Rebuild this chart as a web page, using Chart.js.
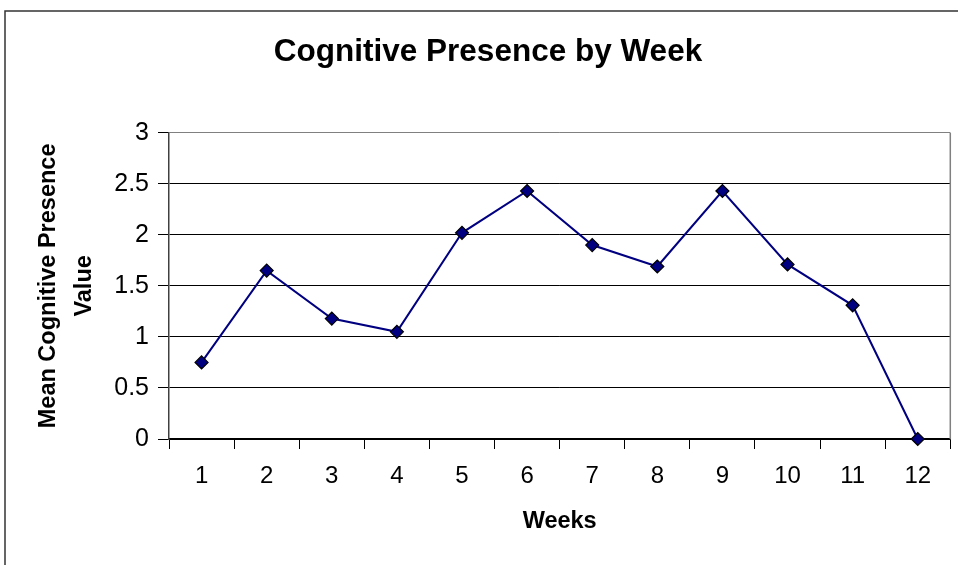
<!DOCTYPE html>
<html>
<head>
<meta charset="utf-8">
<title>Cognitive Presence by Week</title>
<script src="https://cdn.jsdelivr.net/npm/chart.js@4"></script>
<style>
  html, body { margin: 0; padding: 0; background: #fff; }
  #wrap { width: 958px; height: 565px; position: relative; }
</style>
</head>
<body>
<div id="wrap"><canvas id="myChart"></canvas></div>
<script>
'use strict';

/* Data */
const weeks = ['1', '2', '3', '4', '5', '6', '7', '8', '9', '10', '11', '12'];
const meanCognitive = [0.75, 1.65, 1.18, 1.05, 2.02, 2.43, 1.90, 1.69, 2.43, 1.71, 1.31, 0];
const yTicks = [0, 0.5, 1, 1.5, 2, 2.5, 3];

const FONT = "'Liberation Sans', Arial, sans-serif";

/* frame round the whole chart + grey right edge of the plot */
const frame = {
    id: 'frame',
    beforeDraw(chart) {
        const ctx = chart.ctx;
        ctx.save();
        ctx.fillStyle = '#fff';
        ctx.fillRect(0, 0, chart.width, chart.height);
        ctx.strokeStyle = '#333';
        ctx.lineWidth = 1.5;
        ctx.strokeRect(5, 11, 1000, 1000);
        ctx.restore();
    },
    afterDraw(chart) {
        const a = chart.chartArea;
        const ctx = chart.ctx;
        ctx.save();
        ctx.strokeStyle = '#808080';
        ctx.lineWidth = 1.5;
        ctx.beginPath();
        ctx.moveTo(a.right, a.top);
        ctx.lineTo(a.right, a.bottom);
        ctx.stroke();
        ctx.restore();
    }
};

const data = {
    labels: weeks,
    datasets: [{
        label: 'Mean Cognitive Presence',
        data: meanCognitive,
        borderColor: '#000080',
        borderWidth: 2,
        backgroundColor: '#000080',
        pointStyle: 'rectRot',
        pointRadius: 6.5,
        pointBorderColor: '#000',
        pointBorderWidth: 1.2,
        tension: 0,
        clip: false
    }]
};

const config = {
    type: 'line',
    data: data,
    plugins: [frame],
    options: {
        responsive: false,
        animation: false,
        devicePixelRatio: 1,
        layout: {
            padding: { left: 23, right: 5, top: 0, bottom: 0 }
        },
        plugins: {
            legend: { display: false },
            tooltip: { enabled: false },
            title: {
                display: true,
                text: 'Cognitive Presence by Week',
                color: '#000',
                font: { family: FONT, size: 31.5, weight: 'bold' },
                padding: { top: 33, bottom: 62 }
            }
        },
        scales: {
            x: {
                offset: true,
                grid: {
                    offset: true,
                    drawOnChartArea: false,
                    drawTicks: true,
                    tickLength: 10,
                    tickColor: '#000'
                },
                border: { color: '#000', width: 1.5 },
                ticks: {
                    color: '#000',
                    padding: 13,
                    maxRotation: 0,
                    autoSkip: false,
                    font: { family: FONT, size: 24 }
                },
                title: {
                    display: true,
                    text: 'Weeks',
                    color: '#000',
                    font: { family: FONT, size: 23.5, weight: 'bold' },
                    padding: { top: 0, bottom: 29 }
                },
                afterFit(scale) { scale.height = 126; }
            },
            y: {
                min: 0,
                max: 3,
                afterBuildTicks(scale) {
                    scale.ticks = yTicks.map(v => ({ value: v }));
                },
                grid: {
                    color: ctx => (ctx.tick && ctx.tick.value === 3) ? '#808080' : '#000',
                    lineWidth: 1,
                    drawTicks: true,
                    tickLength: 11,
                    tickColor: '#000'
                },
                border: { color: '#404040', width: 1.5 },
                ticks: {
                    color: '#000',
                    padding: 9,
                    font: { family: FONT, size: 25 },
                    callback: v => String(v)
                },
                title: {
                    display: true,
                    text: ['Mean Cognitive Presence', 'Value'],
                    color: '#000',
                    font: { family: FONT, size: 23.5, weight: 'bold', lineHeight: 1.55 },
                    padding: { top: 7, bottom: 0 }
                },
                afterFit(scale) { scale.width = 146; }
            }
        }
    }
};

const canvas = document.getElementById('myChart');
canvas.width = 958;
canvas.height = 565;
var myChart = new Chart(canvas, config);
</script>
</body>
</html>
